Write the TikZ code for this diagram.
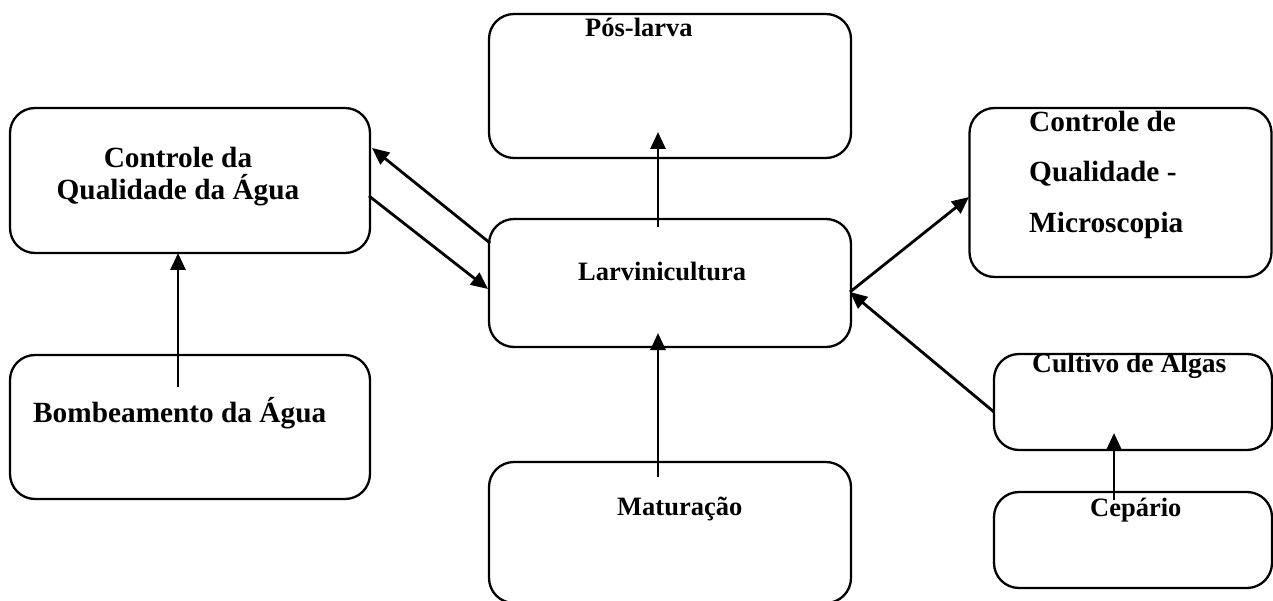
\documentclass[tikz,border=0pt]{standalone}
\usepackage{fontspec}
\setmainfont{Liberation Serif}
\usetikzlibrary{arrows.meta}
\tikzset{
  box/.style={draw=black, line width=2.3pt, rounded corners=25pt, inner sep=0pt, fill=none},
  arr/.style={draw=black, line width=2.8pt, -{Triangle[length=17pt,width=15pt]}},
  lblS/.style={inner sep=0pt, anchor=base west, font=\bfseries\fontsize{26.5}{32}\selectfont},
  lblL/.style={inner sep=0pt, anchor=base west, font=\bfseries\fontsize{29.3}{32}\selectfont},
}
\begin{document}
\begin{tikzpicture}[x=1pt,y=-1pt]
\useasboundingbox[fill=white] (0,0) rectangle (1273,601);
% boxes
\node[box, minimum width=362pt, minimum height=144pt] (pos)   at (670,86) {};
\node[box, minimum width=360pt, minimum height=145pt] (cqa)   at (190,180.5) {};
\node[box, minimum width=302pt, minimum height=169pt] (micro) at (1120.5,192.5) {};
\node[box, minimum width=362pt, minimum height=128pt] (larv)  at (670,283) {};
\node[box, minimum width=360pt, minimum height=144pt] (bomb)  at (190,427) {};
\node[box, minimum width=278pt, minimum height=96pt]  (cult)  at (1133,402) {};
\node[box, minimum width=278pt, minimum height=96pt]  (cep)   at (1133,540) {};
\node[box, minimum width=362pt, minimum height=141pt] (mat)   at (670,532.5) {};
% labels
\node[lblS] (tpos) at (585,37) {Pós-larva};
\node[lblL, anchor=base] (tcqa1) at (178,168) {Controle da};
\node[lblL, anchor=base] (tcqa2) at (178,200) {Qualidade da Água};
\node[lblL] (tmic1) at (1029,132) {Controle de};
\node[lblL] (tmic2) at (1029,182) {Qualidade -};
\node[lblL] (tmic3) at (1029,233) {Microscopia};
\node[lblS] (tlarv) at (578,281) {Larvinicultura};
\node[lblL] (tbomb) at (33,422) {Bombeamento da Água};
\node[lblS, font=\bfseries\fontsize{27.5}{32}\selectfont] (tcult) at (1032,372) {Cultivo de Algas};
\node[lblS] (tcep) at (1090,516) {Cepário};
\node[lblS] (tmat) at (617,515) {Maturação};
% connector end points
\coordinate (larvTop) at (658,227);
\coordinate (posTip) at (658,132);
\coordinate (matTop) at (658,477);
\coordinate (larvBot) at (658,333);
\coordinate (larvW1) at (490,243);
\coordinate (cqaE1) at (372,148);
\coordinate (cqaE2) at (369,196);
\coordinate (larvW2) at (488,289);
\coordinate (larvE) at (850,292);
\coordinate (micW) at (969,197);
\coordinate (cultW) at (994,412);
\coordinate (bombTop) at (178,387);
\coordinate (cqaBot) at (178,253);
\coordinate (cepTop) at (1114,500);
\coordinate (cultBot) at (1114,433);
% connectors
\draw[arr] (larvTop) -- (posTip);
\draw[arr] (matTop) -- (larvBot);
\draw[arr] (larvW1) -- (cqaE1);
\draw[arr] (cqaE2) -- (larvW2);
\draw[arr] (larvE) -- (micW);
\draw[arr] (cultW) -- (larvE);
\draw[arr] (bombTop) -- (cqaBot);
\draw[arr] (cepTop) -- (cultBot);
\end{tikzpicture}
\end{document}
